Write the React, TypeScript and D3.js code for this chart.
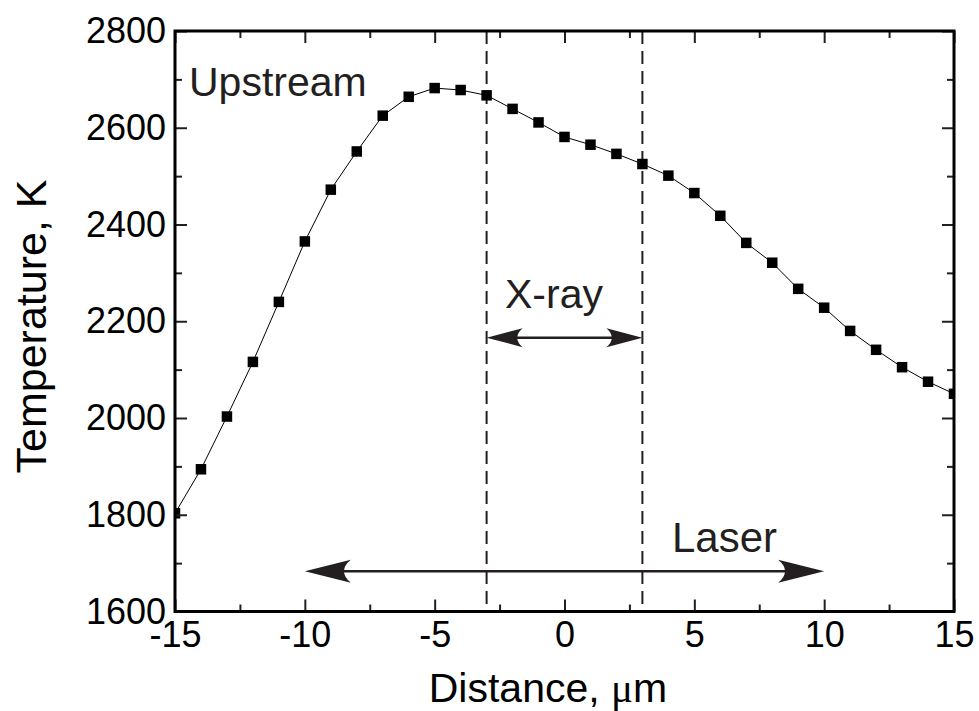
import React, { useEffect, useRef } from 'react';
import * as d3 from 'd3';

// Distance (µm) and temperature (K)
const distance = [-15, -14, -13, -12, -11, -10, -9, -8, -7, -6, -5, -4, -3, -2, -1, 0, 1, 2, 3, 4, 5, 6, 7, 8, 9, 10, 11, 12, 13, 14, 15];
const temperature = [
  1803, 1894, 2003, 2116, 2240, 2365, 2472, 2551, 2625, 2664, 2682, 2678, 2667, 2639, 2611, 2581,
  2565, 2546, 2525, 2501, 2465, 2418, 2362, 2321, 2267, 2228, 2180, 2141, 2105, 2075, 2050,
];

const xTicks = [-15, -10, -5, 0, 5, 10, 15];
const xMinorTicks = [-12.5, -7.5, -2.5, 2.5, 7.5, 12.5];
const yTicks = [1600, 1800, 2000, 2200, 2400, 2600, 2800];
const yMinorTicks = [1700, 1900, 2100, 2300, 2500, 2700];

// dashed markers of the X-ray window
const xrayBounds = [-3, 3];
// double arrows: from, to, temperature level
const xrayArrow = { from: -3, to: 3, level: 2166 };
const laserArrow = { from: -10, to: 10, level: 1683 };

const INK = '#231f20';
const FONT = '"Liberation Sans", Arial, Helvetica, sans-serif';

const App = () => {
  const svgRef = useRef(null);

  useEffect(() => {
    const width = 979;
    const height = 711;
    const left = 175;
    const right = 954;
    const top = 31;
    const bottom = 611.5;

    const svg = d3.select(svgRef.current).attr('width', width).attr('height', height);
    svg.selectAll('*').remove();

    const x = d3.scaleLinear().domain([-15, 15]).range([left, right]);
    const y = d3.scaleLinear().domain([1600, 2800]).range([bottom, top]);

    const data = distance.map((d, i) => ({ x: d, t: temperature[i] }));

    svg
      .append('defs')
      .append('clipPath')
      .attr('id', 'plot-clip')
      .append('rect')
      .attr('x', left)
      .attr('y', top)
      .attr('width', right - left)
      .attr('height', bottom - top);

    // dashed lines
    svg
      .append('g')
      .selectAll('line')
      .data(xrayBounds)
      .join('line')
      .attr('x1', (d) => x(d))
      .attr('x2', (d) => x(d))
      .attr('y1', top)
      .attr('y2', bottom)
      .attr('stroke', INK)
      .attr('stroke-width', 2)
      .attr('stroke-dasharray', '13,7');

    // data line + markers
    const plot = svg.append('g').attr('clip-path', 'url(#plot-clip)');
    const line = d3
      .line()
      .x((d) => x(d.x))
      .y((d) => y(d.t));
    plot
      .append('path')
      .datum(data)
      .attr('d', line)
      .attr('fill', 'none')
      .attr('stroke', '#000')
      .attr('stroke-width', 1);
    const s = 10.5;
    plot
      .selectAll('rect')
      .data(data)
      .join('rect')
      .attr('x', (d) => x(d.x) - s / 2)
      .attr('y', (d) => y(d.t) - s / 2)
      .attr('width', s)
      .attr('height', s)
      .attr('fill', '#000');

    // double-headed arrows
    const drawArrow = (a, headLen, headHalf) => {
      const g = svg.append('g');
      const x0 = x(a.from);
      const x1 = x(a.to);
      const yy = y(a.level);
      g.append('line')
        .attr('x1', x0 + headLen * 0.6)
        .attr('x2', x1 - headLen * 0.6)
        .attr('y1', yy)
        .attr('y2', yy)
        .attr('stroke', INK)
        .attr('stroke-width', 2.5);
      const head = `M0,0 L${headLen},${-headHalf} Q${headLen * 0.7},0 ${headLen},${headHalf} Z`;
      g.append('path').attr('d', head).attr('fill', INK).attr('transform', `translate(${x0},${yy})`);
      g.append('path').attr('d', head).attr('fill', INK).attr('transform', `translate(${x1},${yy}) scale(-1,1)`);
    };
    drawArrow(xrayArrow, 36, 9.5);
    drawArrow(laserArrow, 46, 11.5);

    // axes
    const styleAxis = (g) => {
      g.select('.domain').remove();
      g.selectAll('.tick line').attr('stroke', INK).attr('stroke-width', 2);
      g.selectAll('.tick text').attr('fill', '#000').style('font-family', FONT).style('font-size', '36px');
    };
    const plain = (d) => String(d);
    const none = () => '';

    svg.append('g').attr('transform', `translate(0,${bottom})`)
      .call(d3.axisBottom(x).tickValues(xTicks).tickSize(-12).tickPadding(10).tickFormat(plain))
      .call(styleAxis);
    svg.append('g').attr('transform', `translate(0,${bottom})`)
      .call(d3.axisBottom(x).tickValues(xMinorTicks).tickSize(-7).tickFormat(none))
      .call(styleAxis);
    svg.append('g').attr('transform', `translate(0,${top})`)
      .call(d3.axisTop(x).tickValues(xTicks).tickSize(-12).tickFormat(none))
      .call(styleAxis);
    svg.append('g').attr('transform', `translate(0,${top})`)
      .call(d3.axisTop(x).tickValues(xMinorTicks).tickSize(-7).tickFormat(none))
      .call(styleAxis);

    svg.append('g').attr('transform', `translate(${left},0)`)
      .call(d3.axisLeft(y).tickValues(yTicks).tickSize(-12).tickPadding(9).tickFormat(plain))
      .call(styleAxis);
    svg.append('g').attr('transform', `translate(${left},0)`)
      .call(d3.axisLeft(y).tickValues(yMinorTicks).tickSize(-7).tickFormat(none))
      .call(styleAxis);
    svg.append('g').attr('transform', `translate(${right},0)`)
      .call(d3.axisRight(y).tickValues(yTicks).tickSize(-12).tickFormat(none))
      .call(styleAxis);
    svg.append('g').attr('transform', `translate(${right},0)`)
      .call(d3.axisRight(y).tickValues(yMinorTicks).tickSize(-7).tickFormat(none))
      .call(styleAxis);

    // frame
    svg
      .append('rect')
      .attr('x', left)
      .attr('y', top)
      .attr('width', right - left)
      .attr('height', bottom - top)
      .attr('fill', 'none')
      .attr('stroke', '#000')
      .attr('stroke-width', 3);

    // labels
    const label = (txt, px, py, size) =>
      svg
        .append('text')
        .attr('x', px)
        .attr('y', py)
        .attr('fill', INK)
        .style('font-family', FONT)
        .style('font-size', `${size}px`)
        .text(txt);

    label('Upstream', 189, 96, 41);
    label('X-ray', 505, 308, 41);
    label('Laser', 672, 552, 42);

    const xTitle = svg
      .append('text')
      .attr('x', 548)
      .attr('y', 702)
      .attr('fill', '#000')
      .attr('text-anchor', 'middle')
      .style('font-family', FONT)
      .style('font-size', '41px');
    xTitle.append('tspan').text('Distance, ');
    xTitle.append('tspan').style('font-family', '"Liberation Serif", "DejaVu Serif", serif').text('\u03bc');
    xTitle.append('tspan').text('m');

    svg
      .append('text')
      .attr('transform', `translate(46,${326.5}) rotate(-90)`)
      .attr('fill', '#000')
      .attr('text-anchor', 'middle')
      .style('font-family', FONT)
      .style('font-size', '43px')
      .text('Temperature, K');
  }, []);

  return (
    <div style={{ position: 'absolute', left: 0, top: 0, background: '#fff' }}>
      <svg ref={svgRef} style={{ display: 'block' }}></svg>
    </div>
  );
};

export default App;
